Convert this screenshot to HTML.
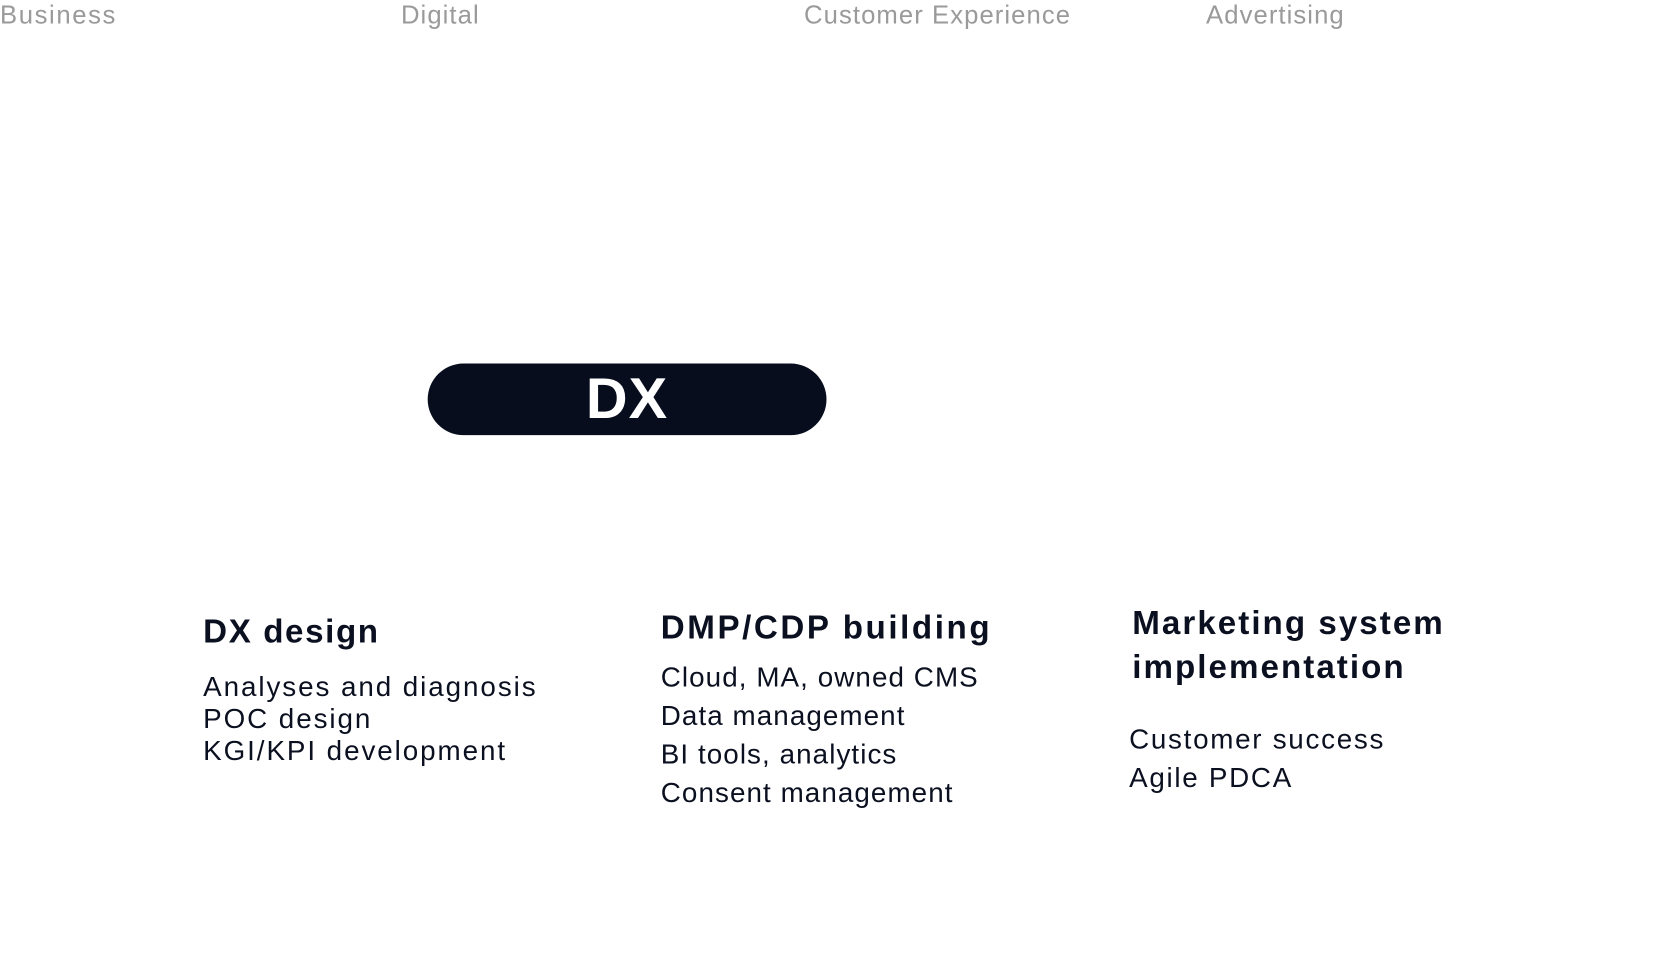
<!DOCTYPE html>
<html><head><meta charset="utf-8"><style>
html,body{margin:0;padding:0;background:#fff;overflow:hidden;width:1668px;height:975px}
#w{position:absolute;left:0;top:0;width:1560px;height:912px;transform:scale(1.0692);transform-origin:0 0;font-family:"Liberation Sans",sans-serif;color:#0b1020}
.t{position:absolute;white-space:nowrap;line-height:1}
.h{color:#9a9a9a;font-size:24px;top:3px;letter-spacing:1px}
.hd{font-weight:bold;font-size:31px}
.b{font-size:26px}
#pill{position:absolute;left:400px;top:340px;width:373px;height:67px;border-radius:34px;background:#070d1c;color:#fff;font-weight:bold;font-size:54px;text-align:center;line-height:67px;letter-spacing:1px}
</style></head><body><div id="w">
<div class="t h" style="left:0;letter-spacing:1.5px">Business</div>
<div class="t h" style="left:375px">Digital</div>
<div class="t h" style="left:752px">Customer Experience</div>
<div class="t h" style="left:1128px">Advertising</div>
<div id="pill">DX</div>
<div class="t hd" style="left:190px;top:575px;letter-spacing:1.5px">DX design</div>
<div class="t b" style="left:190px;top:629px;letter-spacing:1.8px">Analyses and diagnosis</div>
<div class="t b" style="left:190px;top:659px;letter-spacing:1.8px">POC design</div>
<div class="t b" style="left:190px;top:689px;letter-spacing:1.8px">KGI/KPI development</div>
<div class="t hd" style="left:618px;top:571px;letter-spacing:2.4px">DMP/CDP building</div>
<div class="t b" style="left:618px;top:620px;letter-spacing:1px">Cloud, MA, owned CMS</div>
<div class="t b" style="left:618px;top:656px;letter-spacing:1px">Data management</div>
<div class="t b" style="left:618px;top:692px;letter-spacing:1px">BI tools, analytics</div>
<div class="t b" style="left:618px;top:728px;letter-spacing:1px">Consent management</div>
<div class="t hd" style="left:1059px;top:567px;letter-spacing:1.9px">Marketing system</div>
<div class="t hd" style="left:1059px;top:608px;letter-spacing:1.9px">implementation</div>
<div class="t b" style="left:1056px;top:678px;letter-spacing:1.6px">Customer success</div>
<div class="t b" style="left:1056px;top:714px;letter-spacing:1.6px">Agile PDCA</div>
</div></body></html>
